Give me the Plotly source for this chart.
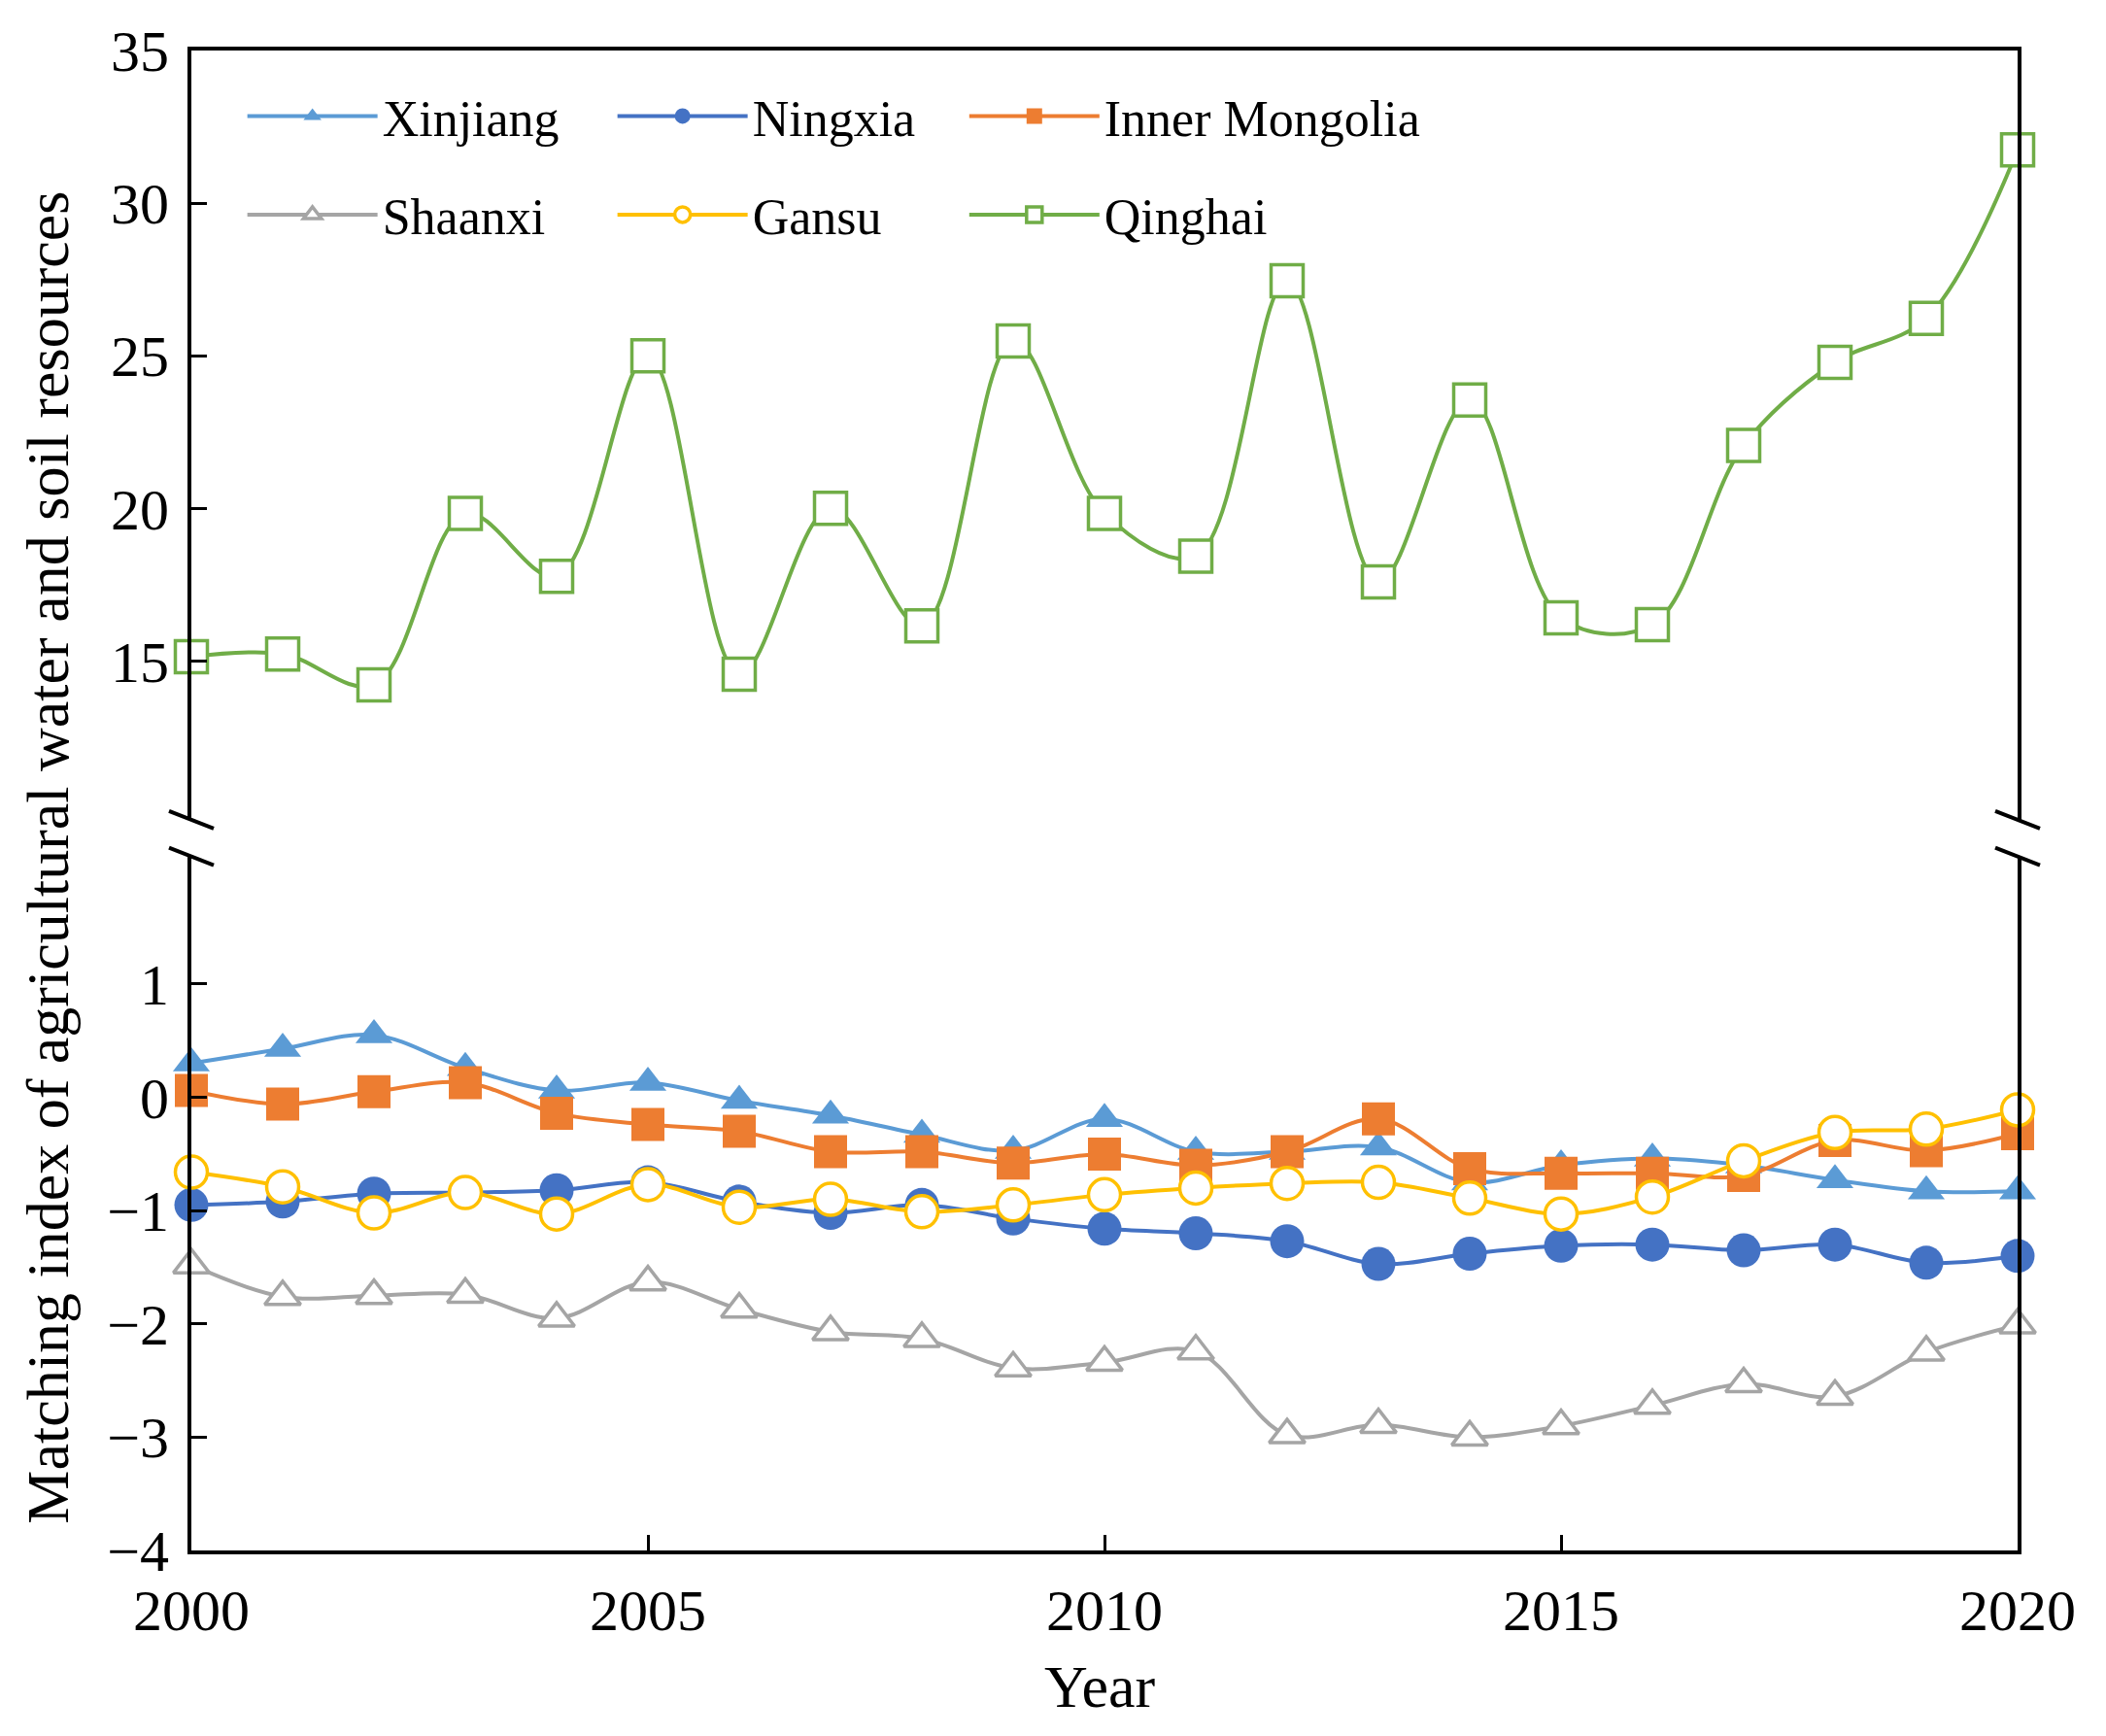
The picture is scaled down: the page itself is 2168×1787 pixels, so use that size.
import plotly.graph_objects as go

years = list(range(2000, 2021))

xinjiang = [0.30, 0.43, 0.55, 0.26, 0.06, 0.13, -0.03, -0.16, -0.33, -0.47, -0.19,
            -0.48, -0.48, -0.44, -0.75, -0.60, -0.54, -0.60, -0.73, -0.83, -0.83]
ningxia = [-0.95, -0.92, -0.85, -0.84, -0.82, -0.75, -0.92, -1.02, -0.95, -1.07, -1.16,
           -1.20, -1.27, -1.47, -1.38, -1.31, -1.30, -1.35, -1.30, -1.46, -1.40]
inner_mongolia = [0.06, -0.06, 0.05, 0.13, -0.14, -0.24, -0.30, -0.48, -0.48, -0.58, -0.50,
                  -0.60, -0.48, -0.19, -0.63, -0.67, -0.67, -0.69, -0.38, -0.47, -0.32]
shaanxi = [-1.48, -1.76, -1.75, -1.74, -1.95, -1.63, -1.87, -2.07, -2.13, -2.39, -2.34,
           -2.24, -2.98, -2.89, -3.00, -2.90, -2.72, -2.53, -2.64, -2.25, -2.01]
gansu = [-0.66, -0.79, -1.02, -0.84, -1.03, -0.77, -0.97, -0.90, -1.01, -0.95, -0.86,
         -0.80, -0.76, -0.75, -0.89, -1.03, -0.88, -0.56, -0.31, -0.28, -0.11]
qinghai = [15.15, 15.24, 14.23, 19.84, 17.78, 25.00, 14.58, 20.01, 16.16, 25.49, 19.84,
           18.44, 27.46, 17.60, 23.56, 16.42, 16.20, 22.07, 24.79, 26.23, 31.75]

upper_ticks = [15, 20, 25, 30, 35]
lower_ticks = [-4, -3, -2, -1, 0, 1]
x_ticks = [2000, 2005, 2010, 2015, 2020]

FONT = "Liberation Serif, Times New Roman, serif"
# page body has an 8 px margin, so the figure is 8 px smaller than the window
W, H = 2160, 1779
ML, MT = 189, 36
PW, PH = 1880, 1552
MR = W - ML - PW
MB = H - MT - PH
BOT = 1596  # plot bottom in window pixels
lower_top = (BOT - 878) / PH
upper_bot = (BOT - 840) / PH

fig = go.Figure()


def add(name, y, color, symbol, size, legend, fill=None, yaxis="y", xaxis="x"):
    fig.add_trace(go.Scatter(
        x=years, y=y, name=name, mode="lines+markers",
        line=dict(color=color, width=4, shape="spline", smoothing=1.0),
        marker=dict(symbol=symbol, size=size, color=fill if fill else color,
                    line=dict(color=color, width=3.5 if fill else 0)),
        xaxis=xaxis, yaxis=yaxis, legend=legend, cliponaxis=False,
    ))


add("Xinjiang", xinjiang, "#5B9BD5", "triangle-up", 33, "legend")
add("Ningxia", ningxia, "#4472C4", "circle", 35, "legend")
add("Inner Mongolia", inner_mongolia, "#ED7D31", "square", 34, "legend3")
add("Shaanxi", shaanxi, "#A5A5A5", "triangle-up", 32, "legend2", fill="white")
add("Gansu", gansu, "#FFC000", "circle", 33, "legend2", fill="white")
add("Qinghai", qinghai, "#70AD47", "square", 33, "legend4", fill="white", yaxis="y2", xaxis="x2")

axis_common = dict(showline=True, linecolor="black", linewidth=4, ticks="inside",
                   ticklen=16, tickwidth=3, tickcolor="black", showgrid=False,
                   zeroline=False, tickfont=dict(family=FONT, size=60, color="black"))

legend_common = dict(orientation="h", xanchor="left", yanchor="middle",
                     itemwidth=134, bgcolor="rgba(0,0,0,0)",
                     font=dict(family=FONT, size=52, color="black"), traceorder="normal")

X1 = 0.028
X3 = 0.4233
Y1 = (BOT - 112) / PH
Y2 = (BOT - 214) / PH

fig.update_layout(
    width=W, height=H,
    margin=dict(l=ML, r=MR, t=MT, b=MB),
    paper_bgcolor="white", plot_bgcolor="white",
    font=dict(family=FONT, color="black"),
    xaxis=dict(range=[2000, 2020], tickvals=x_ticks, anchor="y", ticklabelstandoff=6,
               **axis_common),
    xaxis2=dict(range=[2000, 2020], matches="x", anchor="y2", side="top",
                showticklabels=False, showline=True, linecolor="black", linewidth=4,
                ticks="", showgrid=False, zeroline=False),
    yaxis=dict(domain=[0, lower_top], range=[-4, 2.126], tickvals=lower_ticks,
               mirror=True, ticklabelstandoff=7, **axis_common),
    yaxis2=dict(domain=[upper_bot, 1], range=[9.81, 35], tickvals=upper_ticks,
                mirror=True, anchor="x2", ticklabelstandoff=7, **axis_common),
    legend=dict(x=X1, y=Y1, entrywidth=232, **legend_common),
    legend2=dict(x=X1, y=Y2, entrywidth=232, **legend_common),
    legend3=dict(x=X3, y=Y1, **legend_common),
    legend4=dict(x=X3, y=Y2, **legend_common),
    showlegend=True,
)

# axis title annotations
fig.add_annotation(text="Matching index of agricultural water and soil resources",
                   xref="paper", yref="paper", x=(49 - 197) / PW, y=(BOT - 879) / PH,
                   textangle=-90, showarrow=False, xanchor="center", yanchor="middle",
                   font=dict(family=FONT, size=62, color="black"))
fig.add_annotation(text="Year", xref="paper", yref="paper", x=(1132 - 197) / PW,
                   y=(BOT - 1737) / PH, showarrow=False, xanchor="center", yanchor="middle",
                   font=dict(family=FONT, size=62, color="black"))

# axis break marks
for xa in (0, 1):
    for ya in (upper_bot, lower_top):
        fig.add_shape(type="line", xref="paper", yref="paper",
                      xsizemode="pixel", ysizemode="pixel", xanchor=xa, yanchor=ya,
                      x0=-23, x1=23, y0=9, y1=-9, line=dict(color="black", width=4))

fig.write_html("out.html")
